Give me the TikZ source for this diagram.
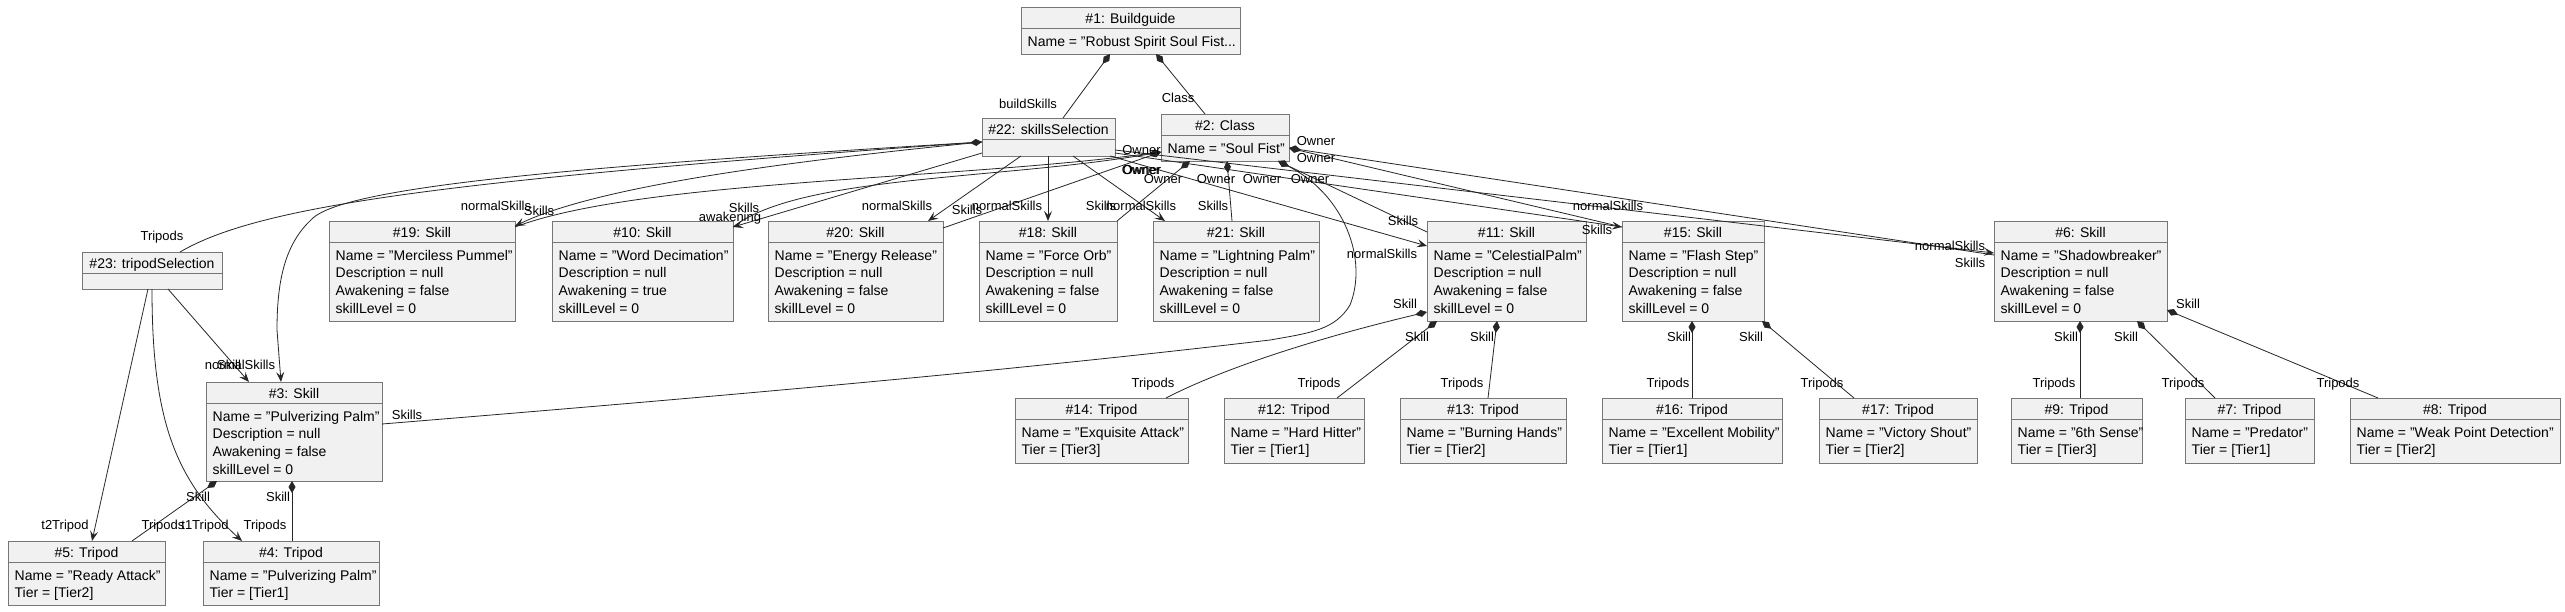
\documentclass[tikz,border=0pt]{standalone}
\usepackage{fontspec}
\setmainfont{Liberation Sans}
\usetikzlibrary{arrows.meta,calc}
\definecolor{boxfill}{HTML}{F1F1F1}
\definecolor{boxline}{HTML}{767676}
\definecolor{edgec}{HTML}{262626}
\tikzset{
  obj/.style={draw=boxline, fill=boxfill, line width=1pt, anchor=north west, inner sep=0pt, outer sep=0pt},
  divider/.style={draw=boxline, line width=1pt},
  ttl/.style={anchor=base, inner sep=0pt, font=\fontsize{14}{17}\selectfont},
  att/.style={anchor=base west, inner sep=0pt, font=\fontsize{14}{17.8}\selectfont},
  lbl/.style={anchor=base, inner sep=0pt, font=\fontsize{13}{15}\selectfont},
  comp/.style={draw=edgec, line width=0.8pt, {Diamond[length=12pt,width=7pt]}-},
  arr/.style={draw=edgec, line width=0.8pt, -{Stealth[length=10pt,width=8pt,inset=4pt]}}
}
\newcommand\objbox[7]{%
  \node[obj, minimum width={(#4-#2)*1pt}, minimum height={(#5-#3)*1pt}] (#1) at (#2,#3) {};
  \draw[divider] ($(#1.north west)+(0,21.5)$) -- ($(#1.north east)+(0,21.5)$);
  \node[ttl] (#1t) at ($(#1.north)+(0,16.5)$) {#6};
  \node[att] (#1a) at ($(#1.north west)+(6.5,39)$) {\begin{tabular}[t]{@{}l@{}}#7\end{tabular}};
}
\newcommand\lbl[4]{\node[lbl] (#1) at (#2,#3) {#4};}
\newcommand\skattr[2]{Name = "#1"\\Description = null\\Awakening = #2\\skillLevel = 0}
\begin{document}
\begin{tikzpicture}[x=1pt,y=-1pt]
\useasboundingbox (0,0) rectangle (2565,611);
\fill[white] (0,0) rectangle (2565,611);
% ---------- boxes ----------
\objbox{n1}{1021}{7}{1240}{54}{\#1: Buildguide}{Name = "Robust Spirit Soul Fist...}
\objbox{n22}{982}{118}{1115}{156}{\#22: skillsSelection}{}
\objbox{n2}{1161}{114}{1289}{161}{\#2: Class}{Name = "Soul Fist"}
\objbox{n23}{82}{252}{222}{289}{\#23: tripodSelection}{}
\objbox{n19}{329}{221}{515}{321}{\#19: Skill}{\skattr{Merciless Pummel}{false}}
\objbox{n10}{552}{221}{733}{321}{\#10: Skill}{\skattr{Word Decimation}{true}}
\objbox{n20}{768}{221}{943}{321}{\#20: Skill}{\skattr{Energy Release}{false}}
\objbox{n18}{979}{221}{1117}{321}{\#18: Skill}{\skattr{Force Orb}{false}}
\objbox{n21}{1153}{221}{1319}{321}{\#21: Skill}{\skattr{Lightning Palm}{false}}
\objbox{n11}{1427}{221}{1586}{321}{\#11: Skill}{\skattr{CelestialPalm}{false}}
\objbox{n15}{1622}{221}{1764}{321}{\#15: Skill}{\skattr{Flash Step}{false}}
\objbox{n6}{1994}{221}{2167}{321}{\#6: Skill}{\skattr{Shadowbreaker}{false}}
\objbox{n3}{206}{382}{382}{481}{\#3: Skill}{\skattr{Pulverizing Palm}{false}}
\objbox{n5}{8}{541}{165}{605}{\#5: Tripod}{Name = "Ready Attack"\\Tier = [Tier2]}
\objbox{n4}{203}{541}{379}{605}{\#4: Tripod}{Name = "Pulverizing Palm"\\Tier = [Tier1]}
\objbox{n14}{1015}{398}{1188}{463}{\#14: Tripod}{Name = "Exquisite Attack"\\Tier = [Tier3]}
\objbox{n12}{1224}{398}{1364}{463}{\#12: Tripod}{Name = "Hard Hitter"\\Tier = [Tier1]}
\objbox{n13}{1400}{398}{1566}{463}{\#13: Tripod}{Name = "Burning Hands"\\Tier = [Tier2]}
\objbox{n16}{1602}{398}{1782}{463}{\#16: Tripod}{Name = "Excellent Mobility"\\Tier = [Tier1]}
\objbox{n17}{1819}{398}{1977}{463}{\#17: Tripod}{Name = "Victory Shout"\\Tier = [Tier2]}
\objbox{n9}{2011}{398}{2142}{463}{\#9: Tripod}{Name = "6th Sense"\\Tier = [Tier3]}
\objbox{n7}{2185}{398}{2314}{463}{\#7: Tripod}{Name = "Predator"\\Tier = [Tier1]}
\objbox{n8}{2350}{398}{2560}{463}{\#8: Tripod}{Name = "Weak Point Detection"\\Tier = [Tier2]}
% ---------- Buildguide ----------
\draw[comp] ($(n1.south west)+(89,0)$) -- ($(n22.north west)+(81,0)$);
\draw[comp] ($(n1.south west)+(135,0)$) -- ($(n2.north west)+(44,0)$);
% ---------- skillsSelection ----------
\draw[comp] ($(n22.north west)+(0,24)$) .. controls (450,180) and (260,205) .. ($(n23.north west)+(98,0)$);
\draw[arr] ($(n22.north west)+(0,24)$) .. controls (600,165) and (350,185) .. (313,218) .. controls (285,243) and (277,280) .. (277,330) -- ($(n3.north west)+(75,0)$);
\draw[arr] ($(n22.north west)+(0,24)$) .. controls (800,160) and (600,185) .. ($(n19.north east)+(0,5)$);
\draw[arr] ($(n22.north west)+(0,35)$) -- ($(n10.north east)+(0,6)$);
\draw[arr] ($(n22.south west)+(39,0)$) -- ($(n20.north west)+(160,0)$);
\draw[arr] ($(n22.south west)+(66,0)$) -- ($(n18.north west)+(69,0)$);
\draw[arr] ($(n22.south west)+(91,0)$) -- ($(n21.north west)+(12,0)$);
\draw[arr] ($(n22.south east)+(-5,0)$) -- ($(n11.north west)+(0,25)$);
\draw[arr] ($(n22.north east)+(0,35)$) -- ($(n15.north west)+(0,6)$);
\draw[arr] ($(n22.north east)+(0,32)$) -- ($(n6.north west)+(0,32)$);
% ---------- Class ----------
\draw[comp] ($(n2.north west)+(0,38)$) .. controls (950,180) and (640,180) .. ($(n19.north east)+(0,6)$);
\draw[comp] ($(n2.north west)+(0,38)$) .. controls (1000,180) and (800,175) .. ($(n10.north east)+(0,6)$);
\draw[comp] ($(n2.north west)+(0,38)$) -- ($(n20.north east)+(0,7)$);
\draw[comp] ($(n2.south west)+(29,0)$) -- (n18.north east);
\draw[comp] ($(n2.south west)+(66,0)$) -- ($(n21.north west)+(79,0)$);
\draw[comp] ($(n2.south west)+(117,0)$) -- ($(n11.north west)+(0,11)$);
\draw[comp] ($(n2.south west)+(117,0)$) .. controls (1345,195) and (1368,260) .. (1350,305) .. controls (1335,330) and (1310,333) .. (1270,340) .. controls (1000,372) and (700,398) .. ($(n3.north east)+(0,42)$);
\draw[comp] ($(n2.north east)+(0,34)$) -- ($(n15.north west)+(0,6)$);
\draw[comp] ($(n2.north east)+(0,34)$) -- ($(n6.north west)+(0,34)$);
% ---------- tripodSelection ----------
\draw[arr] ($(n23.south west)+(66,0)$) -- ($(n5.north west)+(84,0)$);
\draw[arr] ($(n23.south west)+(70,0)$) .. controls (152,420) and (175,480) .. ($(n4.north west)+(39,0)$);
\draw[arr] ($(n23.south west)+(86,0)$) -- ($(n3.north west)+(43,0)$);
% ---------- skills to tripods ----------
\draw[comp] ($(n3.south west)+(11,0)$) -- ($(n5.north west)+(124,0)$);
\draw[comp] ($(n3.south west)+(86,0)$) -- ($(n4.north west)+(89,0)$);
\draw[comp] ($(n11.north west)+(0,91)$) .. controls (1330,335) and (1230,365) .. ($(n14.north west)+(151,0)$);
\draw[comp] ($(n11.south west)+(10,0)$) -- ($(n12.north west)+(113,0)$);
\draw[comp] ($(n11.south west)+(70,0)$) -- ($(n13.north west)+(88,0)$);
\draw[comp] ($(n15.south west)+(70,0)$) -- ($(n16.north west)+(90,0)$);
\draw[comp] ($(n15.south east)+(-2,0)$) -- ($(n17.north west)+(35,0)$);
\draw[comp] ($(n6.south west)+(86,0)$) -- ($(n9.north west)+(69,0)$);
\draw[comp] ($(n6.south west)+(143,0)$) -- ($(n7.north west)+(30,0)$);
\draw[comp] ($(n6.north east)+(0,89)$) -- ($(n8.north west)+(28,0)$);
% ---------- labels ----------
\lbl{a1}{1028}{108.5}{buildSkills}
\lbl{a2}{1178}{102.5}{Class}
\lbl{a3}{162}{240.5}{Tripods}
\lbl{a4}{240}{369.5}{normalSkills}
\lbl{a5}{229}{369.5}{Skill}
\lbl{a6}{65}{529.5}{t2Tripod}
\lbl{a7}{205}{529.5}{t1Tripod}
\lbl{a8}{163}{529.5}{Tripods}
\lbl{a9}{265}{529.5}{Tripods}
\lbl{a10}{198}{501.5}{Skill}
\lbl{a11}{278}{501.5}{Skill}
\lbl{a12}{407}{419.5}{Skills}
\lbl{b1}{496}{210.5}{normalSkills}
\lbl{b2}{539}{215.5}{Skills}
\lbl{b3}{730}{221}{awakening}
\lbl{b4}{744}{212.5}{Skills}
\lbl{b5}{897}{210.5}{normalSkills}
\lbl{b6}{967}{214.5}{Skills}
\lbl{b7}{1007}{210.5}{normalSkills}
\lbl{b8}{1101}{210.5}{Skills}
\lbl{b9}{1141}{210.5}{normalSkills}
\lbl{b10}{1213}{210.5}{Skills}
\lbl{b11}{1382}{258.5}{normalSkills}
\lbl{b12}{1403}{225.5}{Skills}
\lbl{b13}{1608}{210.5}{normalSkills}
\lbl{b14}{1597}{234.5}{Skills}
\lbl{b15}{1950}{250.5}{normalSkills}
\lbl{b16}{1970}{267.5}{Skills}
\lbl{o1}{1141.5}{154.5}{Owner}
\lbl{o2}{1141}{174.5}{Owner}
\lbl{o3}{1142}{174.5}{Owner}
\lbl{o4}{1163}{183.5}{Owner}
\lbl{o5}{1216}{183.5}{Owner}
\lbl{o6}{1262}{183.5}{Owner}
\lbl{o7}{1310}{183.5}{Owner}
\lbl{o8}{1316}{145.5}{Owner}
\lbl{o9}{1316}{162.5}{Owner}
\lbl{c1}{1405}{308.5}{Skill}
\lbl{c2}{1417}{341.5}{Skill}
\lbl{c3}{1482}{341.5}{Skill}
\lbl{c4}{1679}{341.5}{Skill}
\lbl{c5}{1751}{341.5}{Skill}
\lbl{c6}{2066}{341.5}{Skill}
\lbl{c7}{2126}{341.5}{Skill}
\lbl{c8}{2188}{308.5}{Skill}
\lbl{d1}{1153}{387.5}{Tripods}
\lbl{d2}{1319}{387.5}{Tripods}
\lbl{d3}{1462}{387.5}{Tripods}
\lbl{d4}{1668}{387.5}{Tripods}
\lbl{d5}{1822}{387.5}{Tripods}
\lbl{d6}{2054}{387.5}{Tripods}
\lbl{d7}{2183}{387.5}{Tripods}
\lbl{d8}{2338}{387.5}{Tripods}
\end{tikzpicture}
\end{document}
